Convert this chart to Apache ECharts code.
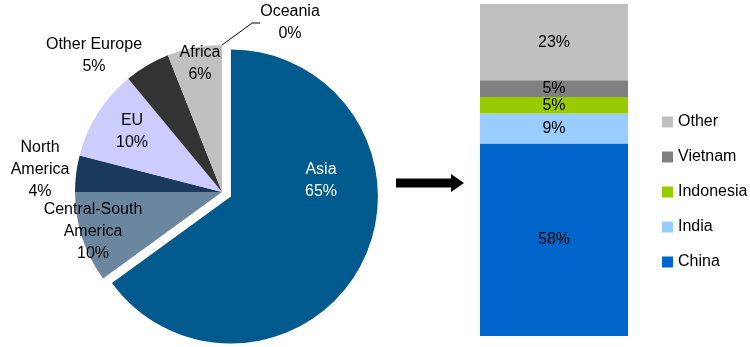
<!DOCTYPE html>
<html>
<head>
<meta charset="utf-8">
<title>Regional split</title>
<script src="https://cdn.jsdelivr.net/npm/echarts@6/dist/echarts.min.js"></script>
<style>
  html, body { margin: 0; padding: 0; background: #fff; }
  #chart { width: 750px; height: 347px; }
</style>
</head>
<body>
<div id="chart"></div>
<script>
// left pie: share by region (%)
const regions = ['Asia', 'Central-South\nAmerica', 'North\nAmerica', 'EU', 'Other Europe', 'Africa', 'Oceania']
const regionShare = [65, 10, 4, 10, 5, 6, 0]
const regionColors = ['#005A8E', '#6B87A0', '#1A3A5C', '#CCCCFF', '#333333', '#C0C0C0', '#A6A6A6']

// right bar: split of Asia (%)
const countries = ['China', 'India', 'Indonesia', 'Vietnam', 'Other']
const countryShare = [58, 9, 5, 5, 23]
const countryColors = ['#0066CC', '#99CCFF', '#99CC00', '#808080', '#C0C0C0']

// where Excel had the pie labels dragged to
const labelXY = [[321, 181], [93, 232], [40, 170], [132, 132], [94, 56], [200, 64], [290, 23]]

const font = 'Liberation Sans, Arial, sans-serif'
const pieCenter = [222, 192]
const explode = 10

let chart = echarts.init(document.getElementById('chart'))

// the Asia slice is pulled out along its mid angle (a second pie with a shifted centre,
// because ECharts' "selected" state ignores labelLayout)
let asiaMid = regionShare[0] / 100 * Math.PI
let asiaCenter = [pieCenter[0] + explode * Math.sin(asiaMid), pieCenter[1] - explode * Math.cos(asiaMid)]

let pieData = (exploded) => regions.map((name, i) => {
    let visible = exploded ? i === 0 : i !== 0
    return {
        name: name,
        value: regionShare[i],
        itemStyle: {color: visible ? regionColors[i] : 'rgba(0,0,0,0)'},
        label: {show: visible, color: i === 0 ? '#fff' : '#000'},
        labelLine: {show: visible && name === 'Oceania'}
    }
})

let pieSeries = (exploded) => ({
    type: 'pie',
    center: exploded ? asiaCenter : pieCenter,
    radius: 147,
    startAngle: 90,
    clockwise: true,
    silent: true,
    label: {
        show: true,
        position: 'outside',
        formatter: (p) => p.name + '\n' + p.value + '%',
        fontFamily: font,
        fontSize: 16,
        lineHeight: 22,
        align: 'center',
        overflow: 'none'
    },
    labelLine: {length: 20, length2: 8, lineStyle: {color: '#000', width: 1}},
    labelLayout: (p) => ({
        x: labelXY[p.dataIndex][0],
        y: labelXY[p.dataIndex][1],
        align: 'center',
        verticalAlign: 'middle',
        hideOverlap: false
    }),
    data: pieData(exploded)
})

let barSeries = countries.map((name, i) => ({
    name: name,
    type: 'bar',
    stack: 'asia',
    barWidth: '100%',
    data: [countryShare[i]],
    itemStyle: {color: countryColors[i]},
    label: {
        show: true,
        position: 'inside',
        formatter: '{c}%',
        color: '#000',
        fontFamily: font,
        fontSize: 16
    }
}))

chart.setOption({
    animation: false,
    textStyle: {fontFamily: font},
    grid: {left: 480, top: 4, width: 148, height: 332},
    xAxis: {type: 'category', data: ['Asia'], show: false},
    yAxis: {type: 'value', min: 0, max: 100, show: false},
    legend: {
        orient: 'vertical',
        left: 662,
        top: 113,
        padding: 0,
        itemWidth: 11,
        itemHeight: 11,
        itemGap: 17,
        icon: 'rect',
        selectedMode: false,
        data: countries.slice().reverse(),
        textStyle: {fontFamily: font, fontSize: 16, color: '#000', lineHeight: 18}
    },
    graphic: [{
        type: 'polygon',
        shape: {points: [[396, 178.5], [451, 178.5], [451, 174], [464, 183], [451, 192], [451, 187.5], [396, 187.5]]},
        style: {fill: '#000'}
    }],
    series: [pieSeries(false), pieSeries(true)].concat(barSeries)
})
</script>
</body>
</html>
